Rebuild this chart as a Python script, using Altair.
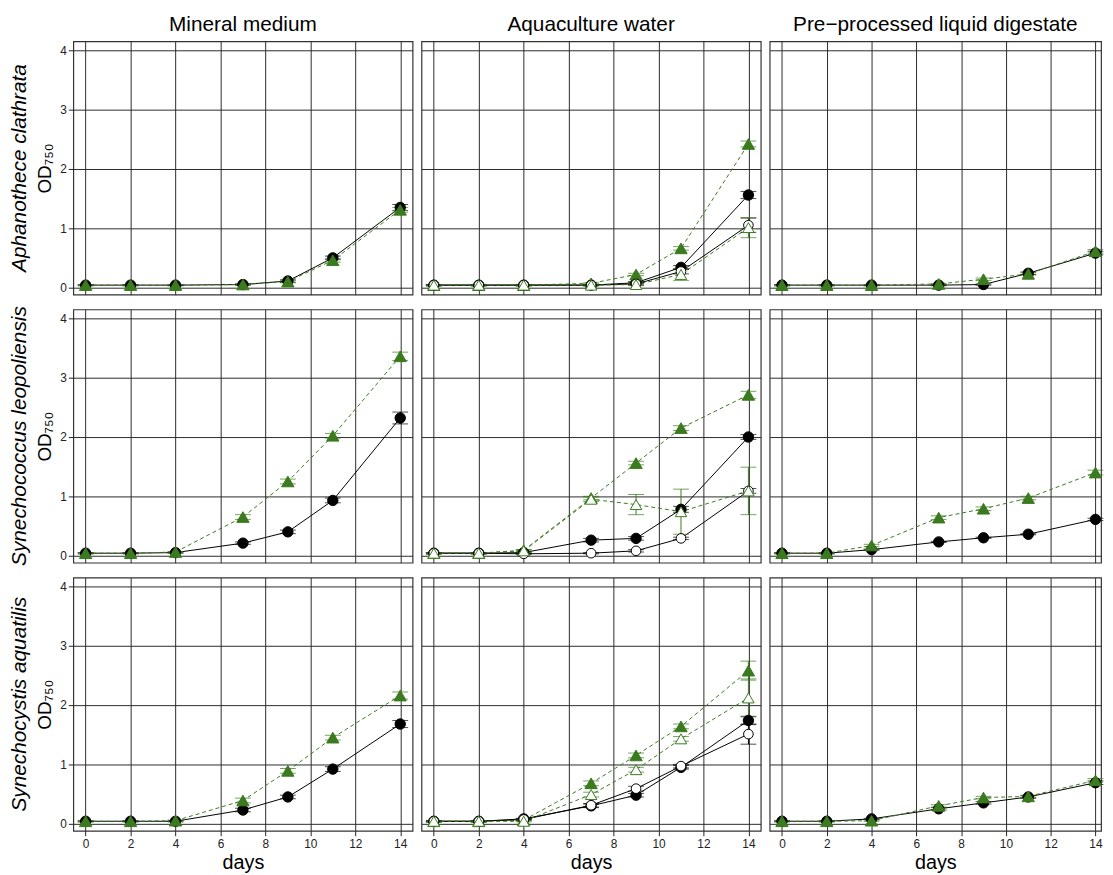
import altair as alt
import pandas as pd

days = [0, 2, 4, 7, 9, 11, 14]
species = ["Aphanothece clathrata", "Synechococcus leopoliensis", "Synechocystis aquatilis"]
media = ["Mineral medium", "Aquaculture water", "Pre\u2212processed liquid digestate"]
series_order = ["S1", "S2", "S3", "S4"]

# --- Aphanothece clathrata ---
aph_mm_s1 = [0.04, 0.04, 0.04, 0.05, 0.11, 0.50, 1.35]
aph_mm_s1_sd = [0.01, 0.01, 0.01, 0.01, 0.02, 0.03, 0.05]
aph_mm_s2 = [0.04, 0.04, 0.04, 0.05, 0.10, 0.46, 1.31]
aph_mm_s2_sd = [0.01, 0.01, 0.01, 0.01, 0.02, 0.03, 0.04]

aph_aq_s1 = [0.04, 0.04, 0.04, 0.04, 0.08, 0.34, 1.56]
aph_aq_s1_sd = [0.01, 0.01, 0.01, 0.01, 0.02, 0.03, 0.06]
aph_aq_s2 = [0.04, 0.04, 0.04, 0.07, 0.22, 0.66, 2.42]
aph_aq_s2_sd = [0.01, 0.01, 0.01, 0.01, 0.02, 0.03, 0.05]
aph_aq_s3 = [0.04, 0.04, 0.04, 0.04, 0.06, 0.27, 1.05]
aph_aq_s3_sd = [0.01, 0.01, 0.01, 0.01, 0.02, 0.04, 0.12]
aph_aq_s4 = [0.04, 0.04, 0.04, 0.04, 0.05, 0.22, 1.01]
aph_aq_s4_sd = [0.01, 0.01, 0.01, 0.01, 0.02, 0.10, 0.17]

aph_pd_s1 = [0.04, 0.04, 0.04, 0.04, 0.05, 0.24, 0.58]
aph_pd_s1_sd = [0.01, 0.01, 0.01, 0.01, 0.01, 0.02, 0.03]
aph_pd_s2 = [0.04, 0.04, 0.04, 0.06, 0.14, 0.23, 0.61]
aph_pd_s2_sd = [0.01, 0.01, 0.01, 0.01, 0.02, 0.02, 0.03]

# --- Synechococcus leopoliensis ---
leo_mm_s1 = [0.04, 0.04, 0.05, 0.21, 0.40, 0.93, 2.32]
leo_mm_s1_sd = [0.01, 0.01, 0.01, 0.02, 0.03, 0.04, 0.10]
leo_mm_s2 = [0.04, 0.04, 0.06, 0.65, 1.25, 2.02, 3.36]
leo_mm_s2_sd = [0.01, 0.01, 0.01, 0.04, 0.04, 0.04, 0.07]

leo_aq_s1 = [0.04, 0.04, 0.05, 0.26, 0.29, 0.78, 2.00]
leo_aq_s1_sd = [0.01, 0.01, 0.01, 0.03, 0.03, 0.05, 0.04]
leo_aq_s2 = [0.04, 0.04, 0.09, 0.97, 1.56, 2.15, 2.71]
leo_aq_s2_sd = [0.01, 0.01, 0.01, 0.03, 0.03, 0.04, 0.06]
leo_aq_s3 = [0.04, 0.04, 0.03, 0.04, 0.08, 0.29, 1.09]
leo_aq_s3_sd = [0.01, 0.01, 0.01, 0.01, 0.02, 0.02, 0.04]
leo_aq_s4 = [0.04, 0.04, 0.08, 0.95, 0.86, 0.74, 1.09]
leo_aq_s4_sd = [0.01, 0.01, 0.02, 0.04, 0.17, 0.38, 0.40]

leo_pd_s1 = [0.04, 0.04, 0.10, 0.23, 0.30, 0.36, 0.61]
leo_pd_s1_sd = [0.01, 0.01, 0.01, 0.01, 0.01, 0.01, 0.02]
leo_pd_s2 = [0.04, 0.04, 0.17, 0.64, 0.79, 0.97, 1.40]
leo_pd_s2_sd = [0.01, 0.01, 0.02, 0.03, 0.03, 0.03, 0.04]

# --- Synechocystis aquatilis ---
aqu_mm_s1 = [0.04, 0.04, 0.04, 0.23, 0.45, 0.92, 1.68]
aqu_mm_s1_sd = [0.01, 0.01, 0.01, 0.03, 0.03, 0.04, 0.06]
aqu_mm_s2 = [0.04, 0.04, 0.05, 0.39, 0.89, 1.45, 2.16]
aqu_mm_s2_sd = [0.01, 0.01, 0.01, 0.04, 0.04, 0.04, 0.06]

aqu_aq_s1 = [0.04, 0.04, 0.08, 0.30, 0.48, 0.95, 1.74]
aqu_aq_s1_sd = [0.01, 0.01, 0.01, 0.03, 0.03, 0.03, 0.07]
aqu_aq_s2 = [0.04, 0.04, 0.06, 0.68, 1.15, 1.64, 2.58]
aqu_aq_s2_sd = [0.01, 0.01, 0.01, 0.04, 0.04, 0.04, 0.16]
aqu_aq_s3 = [0.04, 0.04, 0.07, 0.31, 0.59, 0.97, 1.51]
aqu_aq_s3_sd = [0.01, 0.01, 0.01, 0.03, 0.04, 0.03, 0.17]
aqu_aq_s4 = [0.04, 0.04, 0.04, 0.49, 0.91, 1.43, 2.12]
aqu_aq_s4_sd = [0.01, 0.01, 0.01, 0.04, 0.04, 0.04, 0.32]

aqu_pd_s1 = [0.04, 0.04, 0.08, 0.25, 0.35, 0.45, 0.69]
aqu_pd_s1_sd = [0.01, 0.01, 0.01, 0.02, 0.02, 0.02, 0.03]
aqu_pd_s2 = [0.04, 0.04, 0.05, 0.30, 0.44, 0.46, 0.73]
aqu_pd_s2_sd = [0.01, 0.01, 0.01, 0.02, 0.02, 0.02, 0.03]

panels = {
    (0, 0): {"S1": (aph_mm_s1, aph_mm_s1_sd), "S2": (aph_mm_s2, aph_mm_s2_sd)},
    (0, 1): {"S1": (aph_aq_s1, aph_aq_s1_sd), "S2": (aph_aq_s2, aph_aq_s2_sd),
             "S3": (aph_aq_s3, aph_aq_s3_sd), "S4": (aph_aq_s4, aph_aq_s4_sd)},
    (0, 2): {"S1": (aph_pd_s1, aph_pd_s1_sd), "S2": (aph_pd_s2, aph_pd_s2_sd)},
    (1, 0): {"S1": (leo_mm_s1, leo_mm_s1_sd), "S2": (leo_mm_s2, leo_mm_s2_sd)},
    (1, 1): {"S1": (leo_aq_s1, leo_aq_s1_sd), "S2": (leo_aq_s2, leo_aq_s2_sd),
             "S3": (leo_aq_s3, leo_aq_s3_sd), "S4": (leo_aq_s4, leo_aq_s4_sd)},
    (1, 2): {"S1": (leo_pd_s1, leo_pd_s1_sd), "S2": (leo_pd_s2, leo_pd_s2_sd)},
    (2, 0): {"S1": (aqu_mm_s1, aqu_mm_s1_sd), "S2": (aqu_mm_s2, aqu_mm_s2_sd)},
    (2, 1): {"S1": (aqu_aq_s1, aqu_aq_s1_sd), "S2": (aqu_aq_s2, aqu_aq_s2_sd),
             "S3": (aqu_aq_s3, aqu_aq_s3_sd), "S4": (aqu_aq_s4, aqu_aq_s4_sd)},
    (2, 2): {"S1": (aqu_pd_s1, aqu_pd_s1_sd), "S2": (aqu_pd_s2, aqu_pd_s2_sd)},
}

records = []
for (ri, ci), ser in panels.items():
    for s, (vals, sds) in ser.items():
        for d, v, e in zip(days, vals, sds):
            records.append(dict(species=species[ri], medium=media[ci], series=s,
                                day=d, od=v, lo=v - e, hi=v + e))
df = pd.DataFrame(records)

GREEN = "#3b7a1e"
FONT = "Liberation Sans"
style = {
    "S1": dict(shape="circle", fill="black", stroke="black", line="black", dash=None, size=110),
    "S2": dict(shape="triangle-up", fill=GREEN, stroke=GREEN, line=GREEN, dash=[4, 3], size=155),
    "S3": dict(shape="circle", fill="white", stroke="black", line="black", dash=None, size=95),
    "S4": dict(shape="triangle-up", fill="white", stroke=GREEN, line=GREEN, dash=[4, 3], size=135),
}

XT = [0, 2, 4, 6, 8, 10, 12, 14]
YT = [0, 1, 2, 3, 4]
PW, PH = 343, 256


def make_panel(ri, ci):
    sub = df[(df.species == species[ri]) & (df.medium == media[ci])]
    w = PW if ci < 2 else 335
    xmax = 14.55 if ci < 2 else 14.25
    if ri == 2:
        xaxis = alt.Axis(values=XT, title="days", tickSize=5, labelPadding=3,
                         titlePadding=3, titleFontSize=20, labelFontSize=12)
    else:
        xaxis = alt.Axis(values=XT, title=None, labels=False, ticks=False)
    if ci == 0:
        yaxis = alt.Axis(values=YT, title="OD\u2087\u2085\u2080", tickSize=5, labelPadding=2,
                         titlePadding=5, titleFontSize=19, labelFontSize=12)
    else:
        yaxis = alt.Axis(values=YT, title=None, labels=False, ticks=False)
    xs = alt.Scale(domain=[-0.55, xmax], nice=False, zero=False)
    ys = alt.Scale(domain=[-0.12, 4.15], nice=False, zero=False)
    x = alt.X("day:Q", scale=xs, axis=xaxis)
    present = [s for s in series_order if s in set(sub.series)]
    layers = []
    for s in present:
        st = style[s]
        kw = dict(color=st["line"], strokeWidth=1)
        if st["dash"]:
            kw["strokeDash"] = st["dash"]
        layers.append(alt.Chart(sub[sub.series == s]).mark_line(**kw).encode(
            x=x, y=alt.Y("od:Q", scale=ys, axis=yaxis)))
    for s in present:
        st = style[s]
        d = sub[sub.series == s]
        layers.append(alt.Chart(d).mark_rule(color=st["stroke"], strokeWidth=1).encode(
            x=x, y=alt.Y("lo:Q", scale=ys, axis=yaxis), y2="hi:Q"))
        for f in ["lo", "hi"]:
            layers.append(alt.Chart(d).mark_tick(orient="horizontal", color=st["stroke"],
                                                 size=16, thickness=1).encode(
                x=x, y=alt.Y(f + ":Q", scale=ys, axis=yaxis)))
    for s in present:
        st = style[s]
        layers.append(alt.Chart(sub[sub.series == s]).mark_point(
            shape=st["shape"], filled=True, fill=st["fill"], stroke=st["stroke"],
            strokeWidth=1, size=st["size"], opacity=1).encode(
            x=x, y=alt.Y("od:Q", scale=ys, axis=yaxis)))
    if ci == 0:
        lab = pd.DataFrame({"name": [species[ri]]})
        layers.append(alt.Chart(lab).mark_text(
            angle=270, fontStyle="italic", fontSize=21, font=FONT, color="black",
            align="center", baseline="middle").encode(
            text="name:N", x=alt.value(-54), y=alt.value(PH / 2)))
    ch = alt.layer(*layers).properties(width=w, height=PH)
    if ri == 0:
        ch = ch.properties(title=alt.TitleParams(media[ci], fontSize=21, fontWeight="normal",
                                                 font=FONT, color="black", offset=7,
                                                 anchor="middle"))
    return ch


rows = [alt.hconcat(*[make_panel(ri, ci) for ci in range(3)], spacing=7) for ri in range(3)]

chart = alt.vconcat(*rows, spacing=10).properties(
    padding={"left": 0, "top": 0, "right": 0, "bottom": 0}
).configure_view(stroke="#333333", strokeWidth=1.2).configure_axis(
    gridColor="#2a2a2a", gridWidth=1, gridOpacity=1, domain=False,
    tickColor="#222222", labelColor="#222222", titleColor="black",
    labelFont=FONT, titleFont=FONT, titleFontWeight="normal"
)

chart.save("out.html", embed_options={"renderer": "svg", "actions": False})
